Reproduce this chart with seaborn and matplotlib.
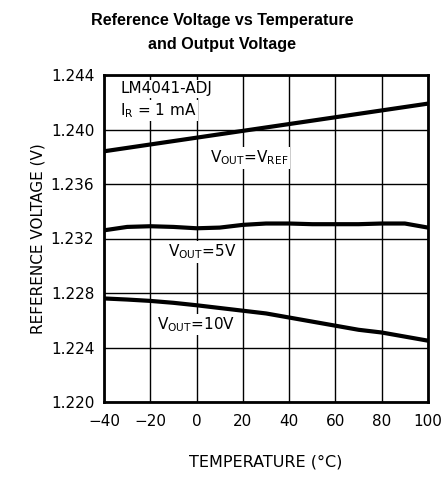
import numpy as np
import pandas as pd
import matplotlib
matplotlib.use("Agg")
import matplotlib.pyplot as plt
import seaborn as sns

temps = [-40, -30, -20, -10, 0, 10, 20, 30, 40, 50, 60, 70, 80, 90, 100]
v_ref = [1.2384, 1.23865, 1.2389, 1.23915, 1.2394, 1.23965, 1.2399, 1.24015, 1.2404, 1.24065, 1.2409, 1.24115, 1.2414, 1.24165, 1.2419]
v_5v = [1.2326, 1.23285, 1.23290, 1.23285, 1.23275, 1.23280, 1.23300, 1.23310, 1.23310, 1.23305, 1.23305, 1.23305, 1.23310, 1.23310, 1.2328]
v_10v = [1.2276, 1.22752, 1.22742, 1.22728, 1.2271, 1.2269, 1.2267, 1.2265, 1.2262, 1.2259, 1.2256, 1.2253, 1.2251, 1.2248, 1.2245]
series_names = ["VREF", "5V", "10V"]
x_ticks = [-40, -20, 0, 20, 40, 60, 80, 100]
y_ticks = [1.220, 1.224, 1.228, 1.232, 1.236, 1.240, 1.244]

df = pd.DataFrame({
    "temp": temps * 3,
    "v": v_ref + v_5v + v_10v,
    "series": [series_names[0]] * len(temps) + [series_names[1]] * len(temps) + [series_names[2]] * len(temps),
})

sns.set_style("white")
plt.rcParams['font.family'] = ['DejaVu Sans']
for k in ["text.color", "axes.labelcolor", "xtick.color", "ytick.color"]:
    plt.rcParams[k] = "black"

fig = plt.figure(figsize=(4.44, 4.78), dpi=100)
ax = fig.add_axes([104/444, 1 - 402/478, (428-104)/444, (402-75)/478])

sns.lineplot(data=df, x="temp", y="v", hue="series", palette=["black"] * 3,
             linewidth=3, legend=False, ax=ax, zorder=3)

ax.set_xlim(-40, 100)
ax.set_ylim(1.220, 1.244)
ax.set_xticks(x_ticks)
ax.set_yticks(y_ticks)
ax.set_xticklabels([str(t).replace("-", "\u2212") for t in x_ticks], fontsize=11)
ax.set_yticklabels([f"{t:.3f}" for t in y_ticks], fontsize=11)
ax.tick_params(axis="x", length=0, pad=9)
ax.tick_params(axis="y", length=0, pad=7)
ax.grid(True, color="black", linewidth=1)
for s in ax.spines.values():
    s.set_linewidth(2)
    s.set_color("black")

ax.set_xlabel("TEMPERATURE (°C)", fontsize=11.5, labelpad=18)
ax.set_ylabel("REFERENCE VOLTAGE (V)", fontsize=11, labelpad=4)

bb = dict(facecolor="white", edgecolor="none", pad=1)
fs = 11
ax.text(-33, 1.2430, "LM4041-ADJ", fontsize=fs, ha="left", va="center", bbox=bb, zorder=4)
ax.text(-33, 1.2414, r"I$_\mathregular{R}$ = 1 mA", fontsize=fs, ha="left", va="center", bbox=bb, zorder=4)
ax.text(6, 1.2379, r"V$_\mathregular{OUT}$=V$_\mathregular{REF}$", fontsize=fs, ha="left", va="center", bbox=bb, zorder=4)
ax.text(-12.5, 1.2310, r"V$_\mathregular{OUT}$=5V", fontsize=fs, ha="left", va="center", bbox=bb, zorder=4)
ax.text(-17, 1.2257, r"V$_\mathregular{OUT}$=10V", fontsize=fs, ha="left", va="center", bbox=bb, zorder=4)

fig.text(0.5, 1 - 20/478, "Reference Voltage vs Temperature", ha="center", va="center",
         fontsize=11.6, fontweight="bold", family="Liberation Sans")
fig.text(0.5, 1 - 45/478, "and Output Voltage", ha="center", va="center",
         fontsize=11.6, fontweight="bold", family="Liberation Sans")

fig.savefig("out.png", dpi=100)
